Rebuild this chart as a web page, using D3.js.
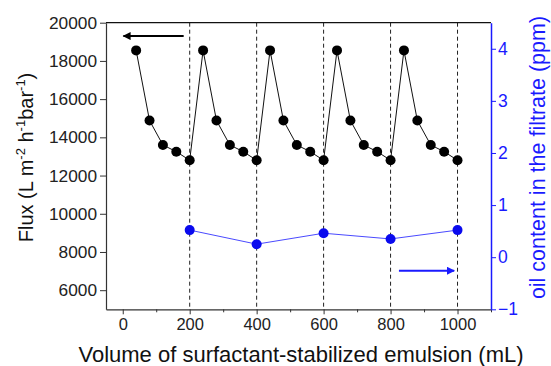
<!DOCTYPE html>
<html>
<head>
<meta charset="utf-8">
<script src="https://d3js.org/d3.v7.min.js"></script>
<style>
  body { margin: 0; background: #fff; }
  svg { font-family: "Liberation Sans", Arial, sans-serif; }
</style>
</head>
<body>
<svg id="chart" width="551" height="366"></svg>
<script>
// flux data: 5 cycles of 200 mL each
const volumes = [40, 80, 120, 160, 200, 240, 280, 320, 360, 400, 440, 480, 520, 560, 600,
                 640, 680, 720, 760, 800, 840, 880, 920, 960, 1000];
const flux = [18550, 14880, 13600, 13250, 12800,
              18550, 14880, 13600, 13250, 12800,
              18550, 14880, 13600, 13250, 12800,
              18550, 14880, 13600, 13250, 12800,
              18550, 14880, 13600, 13250, 12800];
// oil content measured at the end of each cycle
const oilVolumes = [200, 400, 600, 800, 1000];
const oil = [0.52, 0.25, 0.46, 0.35, 0.52];

const xTicks = [0, 200, 400, 600, 800, 1000];
const xMinor = [100, 300, 500, 700, 900, 1100];
const fluxTicks = [6000, 8000, 10000, 12000, 14000, 16000, 18000, 20000];
const oilTicks = [-1, 0, 1, 2, 3, 4];

const svg = d3.select("#chart");
const mLeft = 106, mRight = 491, mTop = 22.7, mBottom = 309.3;
const blue = "#1a1aff";

const x = d3.scaleLinear().domain([-50, 1100]).range([mLeft, mRight]);
const yL = d3.scaleLinear().domain([5000, 20000]).range([mBottom, mTop]);
const yR = d3.scaleLinear().domain([-1, 4.5]).range([mBottom, mTop]);

// dashed cycle separators
svg.append("g").selectAll("line").data(oilVolumes).enter().append("line")
  .attr("x1", d => x(d)).attr("x2", d => x(d))
  .attr("y1", mTop).attr("y2", mBottom)
  .attr("stroke", "#222").attr("stroke-width", 1)
  .attr("stroke-dasharray", "4,3");

// top frame line
svg.append("line").attr("x1", mLeft).attr("x2", mRight).attr("y1", mTop).attr("y2", mTop)
  .attr("stroke", "#111").attr("stroke-width", 1.2);

// x axis
const xAxis = svg.append("g").attr("transform", `translate(0,${mBottom})`)
  .call(d3.axisBottom(x).tickValues(xTicks).tickSize(5).tickPadding(4).tickSizeOuter(0).tickFormat(d3.format("d")));
svg.append("g").attr("transform", `translate(0,${mBottom})`)
  .call(d3.axisBottom(x).tickValues(xMinor).tickSize(3).tickFormat("").tickSizeOuter(0))
  .call(g => g.select(".domain").remove())
  .selectAll("line").attr("stroke", "#333");
xAxis.select(".domain").attr("stroke", "#333").attr("stroke-width", 1.2);
xAxis.selectAll("line").attr("stroke", "#333");
xAxis.selectAll("text").attr("font-size", 16.5).attr("fill", "#222");

// left axis
const lAxis = svg.append("g").attr("transform", `translate(${mLeft},0)`)
  .call(d3.axisLeft(yL).tickValues(fluxTicks).tickSize(6).tickPadding(3).tickSizeOuter(0).tickFormat(d3.format("d")));
lAxis.select(".domain").attr("stroke", "#333").attr("stroke-width", 1.2);
lAxis.selectAll("line").attr("stroke", "#333");
lAxis.selectAll("text").attr("font-size", 17.3).attr("fill", "#222");

// right axis
const rAxis = svg.append("g").attr("transform", `translate(${mRight},0)`)
  .call(d3.axisRight(yR).tickValues(oilTicks).tickSize(5).tickPadding(2).tickSizeOuter(0).tickFormat(d3.format("d")));
rAxis.select(".domain").attr("stroke", blue).attr("stroke-width", 1.5);
rAxis.selectAll("line").attr("stroke", blue);
rAxis.selectAll("text").attr("font-size", 17.5).attr("fill", blue);

// flux series
const fluxPts = volumes.map((v, i) => [v, flux[i]]);
svg.append("path").datum(fluxPts)
  .attr("fill", "none").attr("stroke", "#111").attr("stroke-width", 1)
  .attr("d", d3.line().x(d => x(d[0])).y(d => yL(d[1])));
svg.append("g").selectAll("circle").data(fluxPts).enter().append("circle")
  .attr("cx", d => x(d[0])).attr("cy", d => yL(d[1])).attr("r", 5)
  .attr("fill", "#000");

// oil series
const oilPts = oilVolumes.map((v, i) => [v, oil[i]]);
svg.append("path").datum(oilPts)
  .attr("fill", "none").attr("stroke", "#4a4aff").attr("stroke-width", 1)
  .attr("d", d3.line().x(d => x(d[0])).y(d => yR(d[1])));
svg.append("g").selectAll("circle").data(oilPts).enter().append("circle")
  .attr("cx", d => x(d[0])).attr("cy", d => yR(d[1])).attr("r", 5)
  .attr("fill", "#0a0aee");

// arrows showing which axis each series belongs to
const defs = svg.append("defs");
function marker(id, color) {
  defs.append("marker").attr("id", id).attr("viewBox", "0 0 10 10")
    .attr("refX", 9).attr("refY", 5).attr("markerWidth", 5).attr("markerHeight", 4)
    .attr("markerUnits", "strokeWidth").attr("orient", "auto")
    .append("path").attr("d", "M0,0 L10,5 L0,10 z").attr("fill", color);
}
marker("headK", "#000");
marker("headB", blue);
svg.append("line")
  .attr("x1", x(182)).attr("y1", yL(19300)).attr("x2", x(2)).attr("y2", yL(19300))
  .attr("stroke", "#000").attr("stroke-width", 2).attr("marker-end", "url(#headK)");
svg.append("line")
  .attr("x1", x(825)).attr("y1", yR(-0.26)).attr("x2", x(990)).attr("y2", yR(-0.26))
  .attr("stroke", blue).attr("stroke-width", 2).attr("marker-end", "url(#headB)");

// axis titles
svg.append("text").attr("x", 301).attr("y", 362)
  .attr("text-anchor", "middle").attr("font-size", 22).attr("fill", "#111")
  .text("Volume of surfactant-stabilized emulsion (mL)");

const yt = svg.append("text").attr("transform", "translate(33,157.5) rotate(-90)")
  .attr("text-anchor", "middle").attr("font-size", 20).attr("fill", "#111");
yt.append("tspan").text("Flux (L m");
yt.append("tspan").attr("dy", -8).attr("font-size", 13).text("-2");
yt.append("tspan").attr("dy", 8).text(" h");
yt.append("tspan").attr("dy", -8).attr("font-size", 13).text("-1");
yt.append("tspan").attr("dy", 8).text("bar");
yt.append("tspan").attr("dy", -8).attr("font-size", 13).text("-1");
yt.append("tspan").attr("dy", 8).text(")");

svg.append("text").attr("transform", "translate(545,157.5) rotate(-90)")
  .attr("text-anchor", "middle").attr("font-size", 21.5).attr("fill", blue)
  .text("oil content in the filtrate (ppm)");
</script>
</body>
</html>
